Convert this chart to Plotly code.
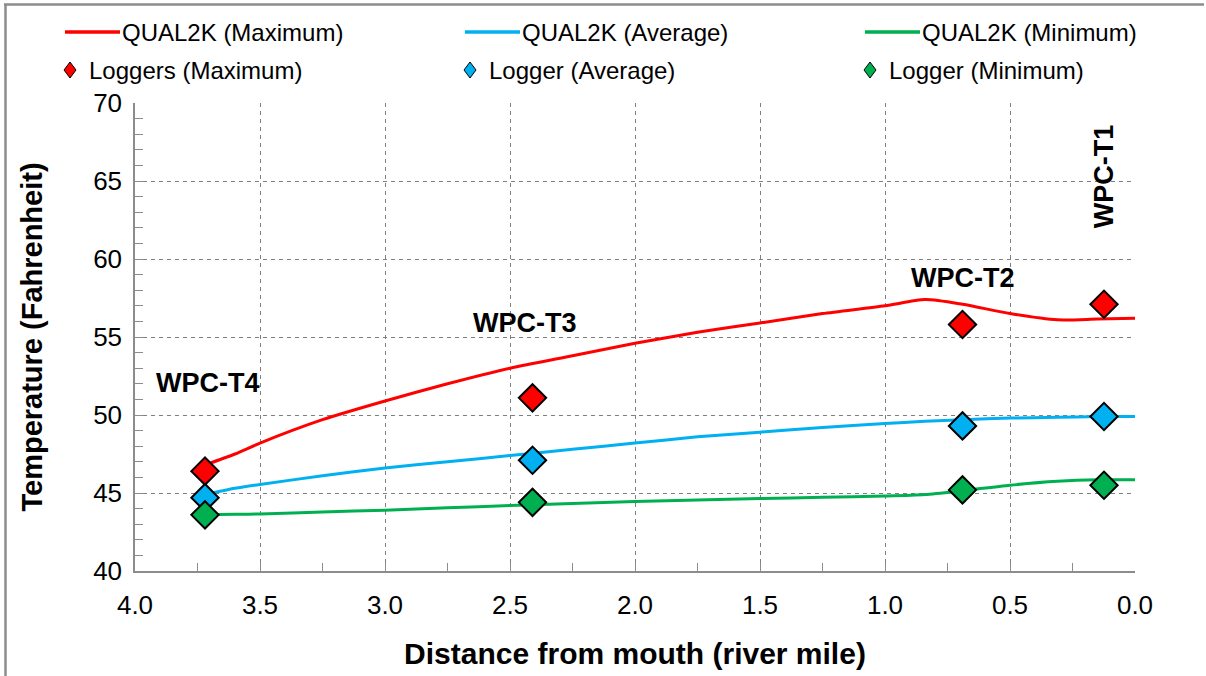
import plotly.graph_objects as go

# QUAL2K model output along the reach (river mile, deg F)
model_x = [3.72, 3.6, 3.5, 3.25, 3.0, 2.75, 2.5, 2.25, 2.0, 1.75, 1.5, 1.25,
           1.0, 0.84, 0.69, 0.5, 0.31, 0.15, 0.0]
model_max = [46.8, 47.5, 48.2, 49.7, 50.9, 52.0, 53.0, 53.8, 54.6, 55.3, 55.9, 56.5,
             57.0, 57.4, 57.1, 56.5, 56.1, 56.15, 56.2]
model_avg = [44.9, 45.3, 45.55, 46.1, 46.6, 47.0, 47.4, 47.8, 48.2, 48.6, 48.9, 49.2,
             49.45, 49.6, 49.7, 49.8, 49.85, 49.9, 49.9]
model_min = [43.6, 43.63, 43.66, 43.78, 43.9, 44.05, 44.2, 44.33, 44.45, 44.55, 44.65, 44.72,
             44.8, 44.9, 45.15, 45.5, 45.75, 45.85, 45.85]

# Logger stations
station_names = ["WPC-T4", "WPC-T3", "WPC-T2", "WPC-T1"]
logger_x = [3.72, 2.41, 0.69, 0.124]
logger_max = [46.4, 51.1, 55.8, 57.1]
logger_avg = [44.7, 47.1, 49.3, 49.9]
logger_min = [43.6, 44.4, 45.2, 45.5]

# Station label anchor positions (river mile, deg F)
label_x = [3.71, 2.44, 0.69, 0.124]
label_y = [52.05, 55.9, 58.8, 65.3]
label_angle = [0, 0, 0, -90]

series_names_model = ["QUAL2K (Maximum)", "QUAL2K (Average)", "QUAL2K (Minimum)"]
series_names_logger = ["Loggers (Maximum)", "Logger (Average)", "Logger (Minimum)"]
series_colors = ["#FF0000", "#00B0F0", "#00B050"]
FONT = "Liberation Sans, Arial, sans-serif"

# figure geometry in pixels
W, H = 1206, 676
L, R, T, B = 135, 71, 103, 105
pw, ph = W - L - R, H - T - B
def px(x):
    return (x - L) / pw
def py(y):
    return (H - B - y) / ph

fig = go.Figure()

# model curves
for name, ys, col in zip(series_names_model, [model_max, model_avg, model_min], series_colors):
    fig.add_trace(go.Scatter(x=model_x, y=ys, mode="lines", name=name,
                             line=dict(color=col, width=3, shape="spline", smoothing=0.7),
                             showlegend=False))

# logger observations (drawn on top of the curves)
for name, ys, col in zip(series_names_logger, [logger_max, logger_avg, logger_min], series_colors):
    fig.add_trace(go.Scatter(x=logger_x, y=ys, mode="markers", name=name,
                             marker=dict(symbol="diamond", size=21, color=col,
                                         line=dict(color="black", width=2)),
                             showlegend=False))

for name, lx, ly, ang in zip(station_names, label_x, label_y, label_angle):
    fig.add_annotation(x=lx, y=ly, text=f"<b>{name}</b>", showarrow=False,
                       textangle=ang, font=dict(size=27, color="black", family=FONT))

# legend: two rows, three columns
col_x = [65, 465, 865]
row1_y, row2_y = 32, 70
for cx, name, col in zip(col_x, series_names_model, series_colors):
    fig.add_shape(type="line", xref="paper", yref="paper",
                  x0=px(cx), x1=px(cx + 55), y0=py(row1_y), y1=py(row1_y),
                  line=dict(color=col, width=3.5))
    fig.add_annotation(xref="paper", yref="paper", x=px(cx + 55), y=py(row1_y),
                       xanchor="left", yanchor="middle", text=name, showarrow=False,
                       font=dict(size=24, color="black", family=FONT))
for cx, name, col in zip(col_x, series_names_logger, series_colors):
    dx, dy = 6, 8
    c = cx + 5
    path = (f"M {px(c)} {py(row2_y - dy)} L {px(c + dx)} {py(row2_y)} "
            f"L {px(c)} {py(row2_y + dy)} L {px(c - dx)} {py(row2_y)} Z")
    fig.add_shape(type="path", xref="paper", yref="paper", path=path,
                  fillcolor=col, line=dict(color="black", width=1))
    fig.add_annotation(xref="paper", yref="paper", x=px(cx + 22), y=py(row2_y),
                       xanchor="left", yanchor="middle", text=name, showarrow=False,
                       font=dict(size=24, color="black", family=FONT))

# outer chart frame (top and left edges)
frame = dict(color="#8C8C8C", width=2.5)
fig.add_shape(type="line", xref="paper", yref="paper", x0=px(4), x1=px(1204),
              y0=py(4.5), y1=py(4.5), line=frame)
fig.add_shape(type="line", xref="paper", yref="paper", x0=px(5.5), x1=px(5.5),
              y0=py(4.5), y1=py(676), line=frame)

grid = dict(gridcolor="#7F7F7F", griddash="4px,4px", gridwidth=1)

fig.update_layout(
    width=W, height=H,
    margin=dict(l=L, r=R, t=T, b=B, autoexpand=False),
    paper_bgcolor="white", plot_bgcolor="white",
    font=dict(family=FONT, color="black"),
    showlegend=False,
    xaxis=dict(range=[4.0, 0.0], dtick=0.5, tick0=0, tickformat=".1f",
               showgrid=True, **grid, zeroline=False,
               showline=True, linecolor="#8C8C8C", linewidth=1.5,
               ticks="inside", ticklen=8, tickcolor="#8C8C8C",
               minor=dict(dtick=0.25, ticks="inside", ticklen=8, tickcolor="#8C8C8C", showgrid=False),
               tickfont=dict(size=26), ticklabelstandoff=10,
               title=dict(text="<b>Distance from mouth (river mile)</b>",
                          font=dict(size=30), standoff=24)),
    yaxis=dict(range=[40, 70], dtick=5, showgrid=True, **grid, zeroline=False,
               showline=True, linecolor="#8C8C8C", linewidth=1.5,
               ticks="inside", ticklen=8, tickcolor="#8C8C8C",
               minor=dict(dtick=1, ticks="inside", ticklen=8, tickcolor="#8C8C8C", showgrid=False),
               tickfont=dict(size=26), ticklabelstandoff=6,
               title=dict(text="<b>Temperature (Fahrenheit)</b>",
                          font=dict(size=29), standoff=42)),
)

fig.write_html("out.html")
